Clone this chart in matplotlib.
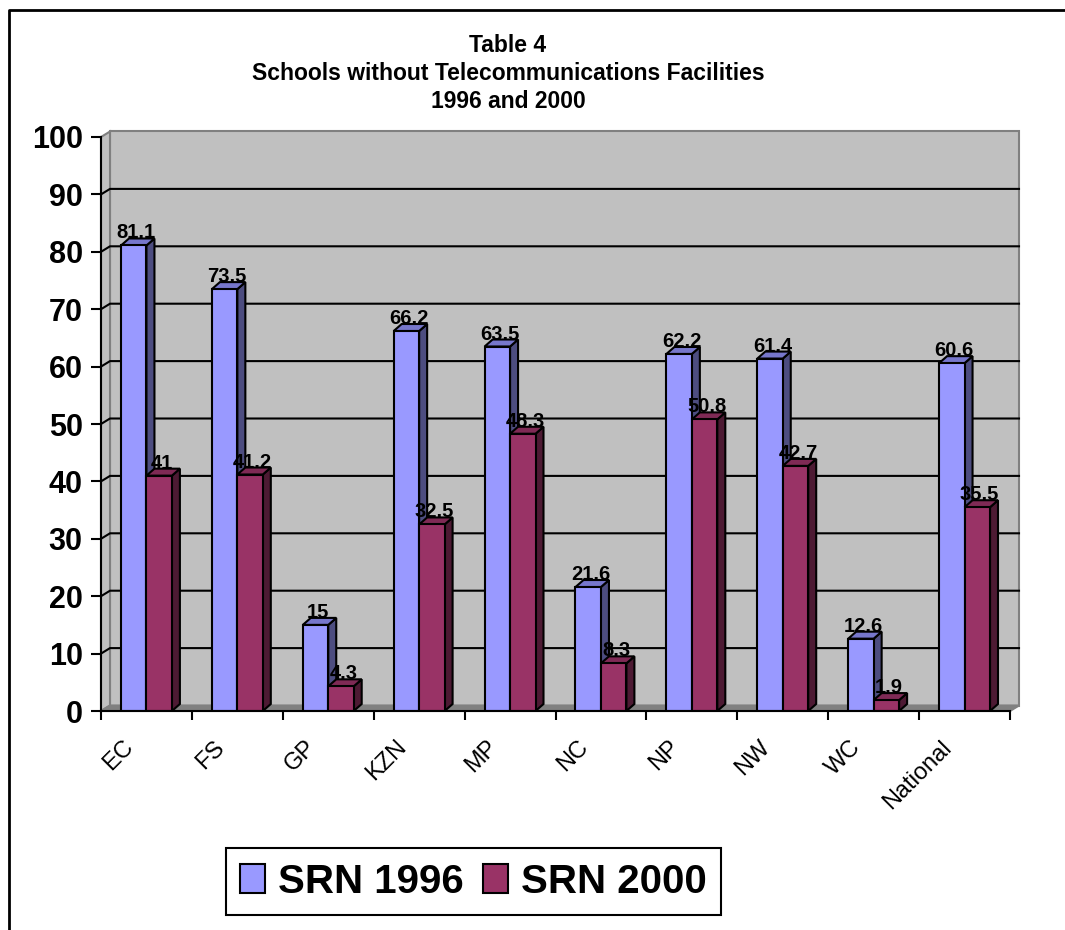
import numpy as np
import matplotlib
matplotlib.use("Agg")
import matplotlib.pyplot as plt
from matplotlib.patches import Polygon, Patch
from matplotlib.lines import Line2D
from matplotlib.transforms import ScaledTranslation

plt.rcParams['font.family'] = ['Liberation Sans', 'DejaVu Sans']

regions = ["EC", "FS", "GP", "KZN", "MP", "NC", "NP", "NW", "WC", "National"]
srn_1996 = [81.1, 73.5, 15, 66.2, 63.5, 21.6, 62.2, 61.4, 12.6, 60.6]
srn_2000 = [41, 41.2, 4.3, 32.5, 48.3, 8.3, 50.8, 42.7, 1.9, 35.5]
series_names = ["SRN 1996", "SRN 2000"]

# face / side / top shades for the fake 3d columns
face_colors = ["#9999FF", "#993366"]
side_colors = ["#4D4D80", "#4D1A33"]
top_colors = ["#7777CC", "#7F2A55"]

W, H = 1065, 930
fig = plt.figure(figsize=(W / 100, H / 100), dpi=100)
ax = fig.add_axes([101 / W, (H - 711) / H, 909 / W, 574 / H])
ax.set_xlim(0, len(regions))
ax.set_ylim(0, 100)
ax.patch.set_visible(False)

# pixel offsets -> data units for the depth effect
ux = len(regions) / 909.0
uy = 100 / 574.0
wall_dx, wall_dy = 9 * ux, 5.5 * uy
bar_dx, bar_dy = 8 * ux, 7 * uy
n = len(regions)

# walls and floor
wall_kw = dict(clip_on=False, linewidth=1.5)
ax.add_patch(Polygon([(wall_dx, wall_dy), (n + wall_dx, wall_dy),
                      (n + wall_dx, 100 + wall_dy), (wall_dx, 100 + wall_dy)],
                     facecolor="#C0C0C0", edgecolor="#808080", zorder=0, **wall_kw))
ax.add_patch(Polygon([(0, 0), (wall_dx, wall_dy), (wall_dx, 100 + wall_dy), (0, 100)],
                     facecolor="#C0C0C0", edgecolor="#808080", zorder=0.1, **wall_kw))
ax.add_patch(Polygon([(0, 0), (n, 0), (n + wall_dx, wall_dy), (wall_dx, wall_dy)],
                     facecolor="#808080", edgecolor="#808080", zorder=0.3, **wall_kw))

# gridlines on the back wall, with the short diagonal on the side wall
for v in range(10, 100, 10):
    ax.plot([0, wall_dx, n + wall_dx], [v, v + wall_dy, v + wall_dy],
            color="black", linewidth=1.5, zorder=0.2, clip_on=False)

# columns
gap = 0.22
width = (1 - 2 * gap) / 2
x = np.arange(n)
for s, vals in enumerate([srn_1996, srn_2000]):
    bars = ax.bar(x + gap + s * width, vals, width, align="edge",
                  color=face_colors[s], edgecolor="black", linewidth=1.5)
    for i, (b, v) in enumerate(zip(bars, vals)):
        z = 2 + i * 0.1 + s * 0.05
        x0, w, h = b.get_x(), b.get_width(), b.get_height()
        x1 = x0 + w
        b.set_zorder(z + 0.02)
        side = Polygon([(x1, 0), (x1 + bar_dx, bar_dy), (x1 + bar_dx, h + bar_dy), (x1, h)],
                       facecolor=side_colors[s], edgecolor="black", linewidth=1.5,
                       zorder=z, clip_on=False)
        top = Polygon([(x0, h), (x1, h), (x1 + bar_dx, h + bar_dy), (x0 + bar_dx, h + bar_dy)],
                      facecolor=top_colors[s], edgecolor="black", linewidth=1.5,
                      zorder=z + 0.01, clip_on=False)
        ax.add_patch(side)
        ax.add_patch(top)
        ax.text(x0 + w / 2 + bar_dx * 0.3, h + bar_dy, f"{v:g}", ha="center",
                va="baseline", fontsize=14.5, fontweight="bold", zorder=10)

# axes
for side_name in ["top", "right"]:
    ax.spines[side_name].set_visible(False)
for side_name in ["left", "bottom"]:
    ax.spines[side_name].set_linewidth(1.5)
    ax.spines[side_name].set_zorder(5)

ax.set_yticks(np.arange(0, 101, 10))
ax.tick_params(axis="y", direction="out", length=7.2, width=1.5, pad=6,
               labelsize=22)
for lab in ax.get_yticklabels():
    lab.set_fontweight("bold")

ax.set_xticks(np.arange(n + 1))
ax.set_xticklabels([])
ax.tick_params(axis="x", which="major", direction="out", length=6.5, width=1.5)

# slanted category names, set left of and below each column pair
label_shift = ax.get_xaxis_transform() + ScaledTranslation(-0.16, -0.33, fig.dpi_scale_trans)
for i, name in enumerate(regions):
    ax.text(i + 0.5, 0, name, transform=label_shift, rotation=45,
            rotation_mode="anchor", ha="right", va="center", fontsize=17)

fig.text(508 / W, 1 - 34 / H,
         "Table 4\nSchools without Telecommunications Facilities\n1996 and 2000",
         ha="center", va="top", fontsize=16.5, fontweight="bold", linespacing=1.29)

handles = [Patch(facecolor=c, edgecolor="black", linewidth=1.5) for c in face_colors]
leg = fig.legend(handles, series_names, loc="center",
                 bbox_to_anchor=(473.5 / W, 1 - 881.5 / H), ncol=2,
                 prop={"size": 29, "weight": "bold"}, frameon=True,
                 fancybox=False, framealpha=1, edgecolor="black",
                 handlelength=0.62, handleheight=0.72, handletextpad=0.33,
                 columnspacing=0.46, borderpad=0.36, borderaxespad=0)
leg.get_frame().set_linewidth(1.5)

# outer chart border
fig.add_artist(Line2D([9 / W, 9 / W, 1], [0, 1 - 10 / H, 1 - 10 / H],
                      transform=fig.transFigure, color="black", linewidth=2))

fig.savefig("out.png", dpi=100)
